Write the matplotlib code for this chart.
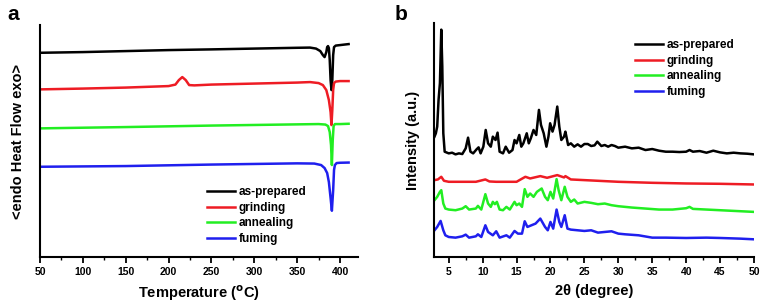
import matplotlib
matplotlib.use('Agg')
import matplotlib.pyplot as plt
from matplotlib.ticker import MultipleLocator

plt.rcParams['font.family'] = ['Liberation Sans', 'DejaVu Sans']
plt.rcParams['font.weight'] = 'bold'

colors = ['black', '#ee1c24', '#22ee22', '#1f1fee']
labels = ['as-prepared', 'grinding', 'annealing', 'fuming']

# ---- DSC (a): temperature (C), heat flow (arbitrary)
dsc_black_t = [50, 100, 150, 200, 250, 300, 350, 365, 372, 377, 380, 382, 384, 385, 386, 387,
               388, 389, 390, 391, 392, 393, 395, 400, 410]
dsc_black_y = [204.3, 205, 206, 207, 207.7, 208.5, 209.3, 209.5, 208.5, 206, 202, 200, 205, 210, 211, 209,
               197, 177, 167, 177, 202, 210, 211.5, 212, 213]
dsc_red_t = [50, 100, 150, 200, 208, 212, 216, 220, 224, 230, 250, 300, 350, 365, 375, 380, 384,
             387, 389, 390, 391, 392, 393, 395, 400, 410]
dsc_red_y = [167.7, 168.5, 169.5, 171, 172.5, 177, 180, 177, 172, 171.7, 172.5, 173.5, 174.5, 175, 174, 172, 167,
             157, 145, 132, 147, 167, 174, 175.5, 176, 176]
dsc_green_t = [50, 150, 250, 350, 375, 383, 386, 388, 389.5, 390.5, 391.5, 392.5, 394, 400, 410]
dsc_green_y = [128.7, 130, 131.5, 132.7, 133, 132.5, 131, 125, 112, 92, 117, 131, 133, 133, 133.3]
dsc_blue_t = [50, 150, 250, 350, 370, 378, 382, 385, 387, 389, 390.5, 392, 393, 394, 396, 400, 410]
dsc_blue_y = [90.3, 91, 92.5, 93.7, 93.5, 92, 89, 84, 75, 59, 46.3, 67, 87, 92, 94, 94.3, 94.5]

# ---- XRD (b): 2theta (degree), intensity (a.u.)
xrd_black_x = [2.9, 3.1, 3.3, 3.5, 3.7, 3.9, 4.05, 4.2, 4.4, 5, 5.5, 6, 6.5, 7, 7.5, 7.85, 8.2, 8.6,
               9.1, 9.4, 9.7, 10.1, 10.45, 10.8, 11.2, 11.5, 11.9, 12.2, 12.5, 13, 13.4, 13.9, 14.4,
               14.7, 15.0, 15.4, 15.7, 16.0, 16.5, 16.8, 17.1, 17.5, 17.9, 18.3, 18.6, 19.0, 19.4,
               19.7, 19.95, 20.3, 20.6, 21.0, 21.3, 21.6, 22.0, 22.2, 22.6, 23.0, 23.5, 24, 24.5,
               25, 25.5, 26, 26.5, 26.9, 27.5, 28, 28.5, 29, 29.5, 30, 31, 32, 33, 34, 35, 36, 37,
               38, 39, 40, 40.5, 41, 42, 43, 44, 45, 46, 47, 48, 49, 50]
xrd_black_y = [360, 370, 390, 470, 520, 680, 570, 370, 315, 310, 312, 307, 310, 308, 325, 357, 315, 310,
               322, 328, 310, 330, 380, 340, 330, 360, 350, 372, 315, 310, 330, 312, 320,
               350, 340, 365, 330, 340, 370, 340, 355, 380, 365, 440, 395, 370, 330,
               360, 400, 375, 395, 450, 390, 350, 360, 375, 335, 340, 330, 337, 330,
               338, 338, 332, 334, 345, 332, 335, 330, 335, 332, 327, 330, 325, 327, 320, 323, 318, 315,
               315, 314, 315, 320, 315, 317, 312, 318, 313, 310, 312, 310, 309, 307]
xrd_red_x = [2.9, 3.4, 3.9, 4.3, 5, 7, 9, 10.4, 11, 12, 15, 15.6, 16.3, 17, 18.5, 19.5, 21, 22, 22.2,
             23, 25, 30, 35, 40, 45, 50]
xrd_red_y = [230, 232, 240, 228, 225, 225, 225, 232, 226, 225, 225, 232, 240, 235, 242, 237, 245, 238, 242,
             232, 230, 225, 222, 220, 219, 217]
xrd_green_x = [2.9, 3.3, 3.7, 3.9, 4.2, 4.5, 5, 6, 7, 7.5, 8, 9, 9.3, 9.8, 10.4, 10.8, 11.2, 11.5, 11.8,
               12.1, 12.5, 13, 13.5, 14, 14.7, 15, 15.4, 15.8, 16.2, 16.6, 17, 17.5, 18, 18.7, 19.2,
               19.6, 20, 20.4, 20.9, 21.2, 21.6, 22.1, 22.5, 23, 23.5, 24, 25, 26, 27, 28, 29, 30, 31,
               32, 34, 36, 38, 40, 40.5, 41, 43, 45, 47, 50]
xrd_green_y = [170, 180, 195, 200, 160, 145, 142, 140, 145, 152, 142, 145, 153, 142, 188, 160, 150, 165, 158,
               165, 142, 140, 150, 142, 165, 155, 160, 150, 203, 180, 190, 180, 195, 205, 180,
               170, 195, 175, 233, 200, 170, 210, 180, 165, 172, 160, 165, 162, 158, 160, 155, 152, 150,
               148, 145, 142, 142, 146, 150, 144, 142, 140, 138, 135]
xrd_blue_x = [2.9, 3.3, 3.8, 4.2, 4.5, 5, 6, 7, 7.5, 8, 9, 9.3, 9.8, 10.4, 10.8, 11.5, 12, 12.5, 13.5,
              14, 14.7, 15.2, 15.8, 16.2, 16.6, 17.2, 17.8, 18.5, 19.2, 19.6, 20, 20.4, 20.9, 21.3,
              21.6, 22.1, 22.5, 23, 24, 25, 26, 27, 28, 29, 30, 31, 33, 35, 37, 40, 43, 45, 48, 50]
xrd_blue_y = [80, 90, 108, 80, 65, 60, 58, 62, 67, 58, 62, 68, 60, 95, 75, 65, 77, 58, 65,
              58, 78, 70, 70, 107, 90, 95, 100, 115, 90, 80, 105, 85, 142, 105,
              90, 125, 85, 82, 80, 78, 80, 73, 75, 77, 70, 68, 65, 58, 58, 57, 58, 57, 55, 53]

fig = plt.figure(figsize=(7.66, 3.06), dpi=100)
ax_a = fig.add_axes([0.0522, 0.160, 0.4152, 0.758])
ax_b = fig.add_axes([0.5666, 0.160, 0.4177, 0.765])

dsc = [(dsc_black_t, dsc_black_y), (dsc_red_t, dsc_red_y),
       (dsc_green_t, dsc_green_y), (dsc_blue_t, dsc_blue_y)]
xrd = [(xrd_black_x, xrd_black_y), (xrd_red_x, xrd_red_y),
       (xrd_green_x, xrd_green_y), (xrd_blue_x, xrd_blue_y)]

for (x, y), c, lab in zip(dsc, colors, labels):
    ax_a.plot(x, y, color=c, lw=1.8, label=lab)
for (x, y), c, lab in zip(xrd, colors, labels):
    ax_b.plot(x, y, color=c, lw=1.8, label=lab)

ax_a.set_xlim(50, 421)
ax_a.set_ylim(0, 232)
ax_a.xaxis.set_major_locator(MultipleLocator(50))
ax_a.xaxis.set_minor_locator(MultipleLocator(25))
ax_a.set_xlabel('Temperature ($^{\\mathbf{o}}$C)', fontsize=10.5, fontweight='bold', labelpad=5)
ax_a.set_ylabel('<endo Heat Flow exo>', fontsize=10.5, fontweight='bold', labelpad=11)

ax_b.set_xlim(2.83, 50)
ax_b.set_ylim(0, 700)
ax_b.xaxis.set_major_locator(MultipleLocator(5))
ax_b.xaxis.set_minor_locator(MultipleLocator(2.5))
ax_b.set_xlabel('2\u03b8 (degree)', fontsize=10.5, fontweight='bold', labelpad=5)
ax_b.set_ylabel('Intensity (a.u.)', fontsize=10.5, fontweight='bold', labelpad=10)

for ax in (ax_a, ax_b):
    ax.spines['top'].set_visible(False)
    ax.spines['right'].set_visible(False)
    ax.spines['left'].set_linewidth(1.5)
    ax.spines['bottom'].set_linewidth(1.5)
    ax.set_yticks([])
    ax.tick_params(axis='x', which='major', direction='out', length=4, width=1.3,
                   labelsize=7.5, pad=3)
    ax.tick_params(axis='x', which='minor', direction='out', length=2.5, width=1.0)
    for t in ax.get_xticklabels():
        t.set_fontweight('bold')

ax_a.legend(loc='upper left', bbox_to_anchor=(0.525, 0.305), frameon=False, fontsize=8.5,
            handlelength=2.4, handletextpad=0.3, labelspacing=0.3, borderpad=0, borderaxespad=0)
ax_b.legend(loc='upper left', bbox_to_anchor=(0.627, 0.93), frameon=False, fontsize=8.5,
            handlelength=2.4, handletextpad=0.3, labelspacing=0.3, borderpad=0, borderaxespad=0)

fig.text(0.010, 0.935, 'a', fontsize=15, fontweight='bold')
fig.text(0.515, 0.935, 'b', fontsize=15, fontweight='bold')

fig.savefig('out.png', dpi=100)
